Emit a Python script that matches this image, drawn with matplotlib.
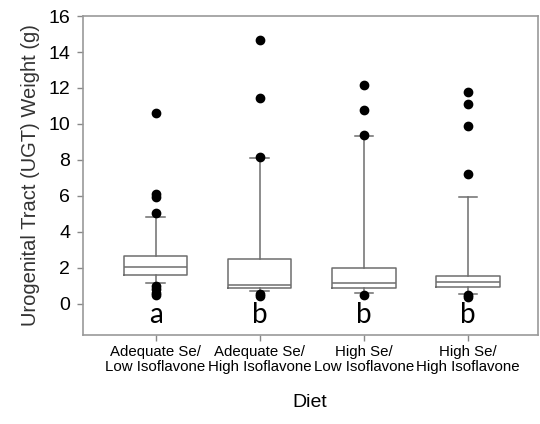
import matplotlib.pyplot as plt

# Diet groups (tick labels) and significance letters
diets = ["Adequate Se/\nLow Isoflavone", "Adequate Se/\nHigh Isoflavone",
         "High Se/\nLow Isoflavone", "High Se/\nHigh Isoflavone"]
letters = ["a", "b", "b", "b"]

# box summary values
q1 = [1.6, 0.85, 0.85, 0.9]
med = [2.05, 1.05, 1.17, 1.22]
q3 = [2.67, 2.5, 2.0, 1.55]
whislo = [1.13, 0.67, 0.57, 0.55]
whishi = [4.8, 8.1, 9.3, 5.95]
fliers = [
    [10.6, 6.1, 5.95, 5.05, 1.0, 0.8, 0.6, 0.45],
    [14.65, 11.45, 8.15, 0.55, 0.42],
    [12.15, 10.75, 9.4, 0.45],
    [11.8, 11.1, 9.9, 7.2, 0.45, 0.38],
]

stats = []
for i in range(len(diets)):
    stats.append({"q1": q1[i], "med": med[i], "q3": q3[i],
                  "whislo": whislo[i], "whishi": whishi[i],
                  "fliers": fliers[i], "label": diets[i]})

fig = plt.figure(figsize=(5.4, 4.24), dpi=100)
ax = fig.add_axes([0.153, 0.21, 0.843, 0.752])

edge = "#6e6e6e"
ax.bxp(stats, positions=[1, 2, 3, 4], widths=0.61, capwidths=0.18,
       boxprops=dict(color=edge, linewidth=1.1),
       medianprops=dict(color=edge, linewidth=1.1),
       whiskerprops=dict(color=edge, linewidth=1.1),
       capprops=dict(color=edge, linewidth=1.1),
       flierprops=dict(marker="o", markerfacecolor="black", markeredgecolor="black",
                       markersize=6, linestyle="none"))

# significance letters under each box
for i, let in enumerate(letters):
    ax.text(i + 1, -1.1, let, ha="center", va="baseline", fontsize=20, family="Lato")

ax.set_xlim(0.3, 4.67)
ax.set_ylim(-1.75, 16)
ax.set_yticks(range(0, 17, 2))
ax.set_xticks([1, 2, 3, 4])
ax.set_xticklabels(diets, fontsize=10.8, family="Liberation Sans", linespacing=1.1)
ax.tick_params(axis="y", labelsize=14, length=4, color="#888888", width=1, pad=5)
ax.tick_params(axis="x", length=4, color="#888888", width=1)
for lab in ax.get_yticklabels():
    lab.set_family("Liberation Sans")

for s in ax.spines.values():
    s.set_color("#999999")
    s.set_linewidth(1.2)

ax.set_ylabel("Urogenital Tract (UGT) Weight (g)", fontsize=14.5, family="Liberation Sans",
              color="#333333", labelpad=6)
ax.set_xlabel("Diet", fontsize=14, family="Liberation Sans", labelpad=14)

fig.savefig("out.png", dpi=100)
